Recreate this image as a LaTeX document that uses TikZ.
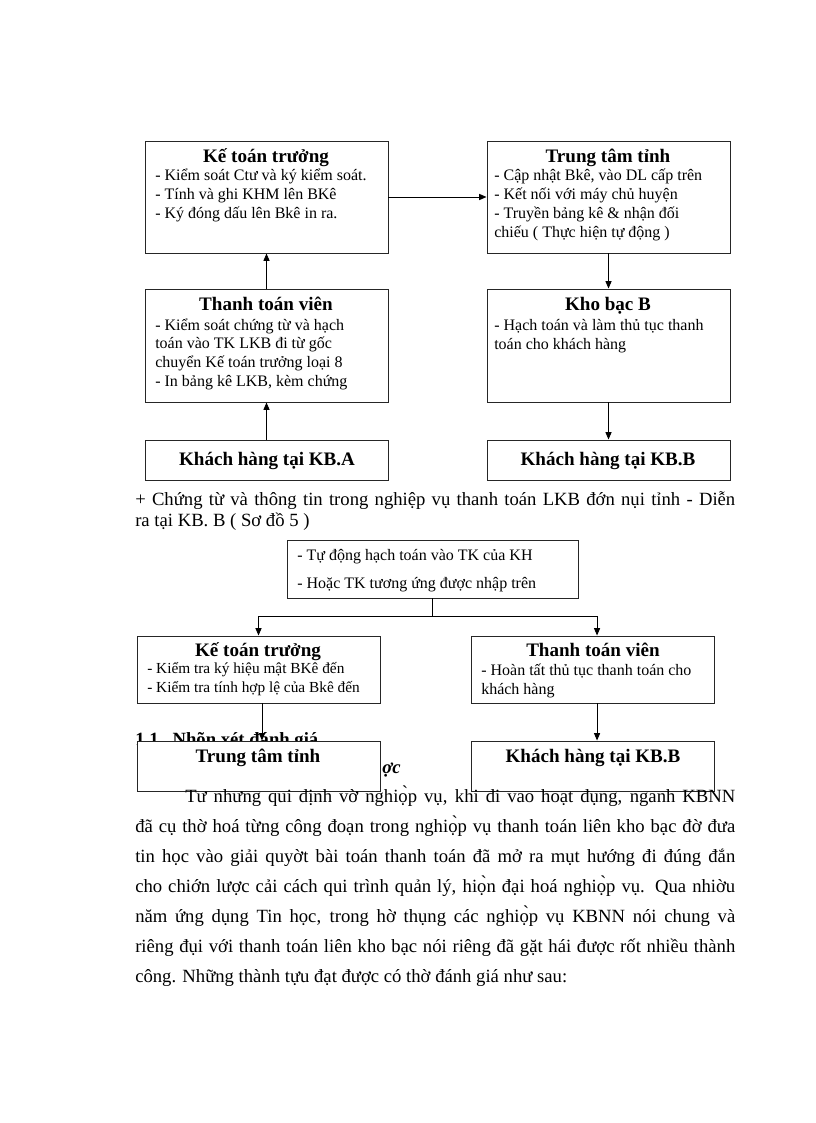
\documentclass[tikz,border=0pt]{standalone}
\usepackage{fontspec}
\setmainfont{Liberation Serif}
\usetikzlibrary{arrows.meta}
\begin{document}
\begin{tikzpicture}[x=0.75pt,y=-0.75pt,
  box/.style={draw=black!85, line width=0.7pt, fill=white, inner sep=0pt},
  bigbox/.style={box, minimum width=182.25pt},
  ttl/.style={font=\fontsize{14.3}{16}\selectfont\bfseries, inner sep=0pt, anchor=base},
  bl/.style={font=\fontsize{12}{14}\selectfont, inner sep=0pt, anchor=base west},
  bls/.style={font=\fontsize{11.5}{14}\selectfont, inner sep=0pt, anchor=base west},
  txt/.style={font=\fontsize{14}{16}\selectfont, inner sep=0pt, anchor=base west},
  arr/.style={-{Triangle[length=5.5pt,width=4.5pt]}, line width=0.7pt}]
\useasboundingbox (0,0) rectangle (816,1123);

% ---------- upper diagram ----------
\node[bigbox, minimum height=84pt] (b1) at (266.5,197) {};
\node[bigbox, minimum height=84pt] (b2) at (608.5,197) {};
\node[bigbox, minimum height=84.75pt] (b3) at (266.5,345.5) {};
\node[bigbox, minimum height=84.75pt] (b4) at (608.5,345.5) {};
\node[bigbox, minimum height=30pt] (b5) at (266.5,460) {};
\node[bigbox, minimum height=30pt] (b6) at (608.5,460) {};

\node[ttl] (t1) at (266,163) {Kế toán trưởng};
\foreach \t [count=\i] in {{- Kiểm soát Ctư và ký kiểm soát.},{- Tính và ghi KHM lên BKê},{- Ký đóng dấu lên Bkê in ra.}}
  \node[bl] (l1-\i) at (155,{181+19*(\i-1)}) {\t};

\node[ttl] (t2) at (608,163) {Trung tâm tỉnh};
\foreach \t [count=\i] in {{- Cập nhật Bkê, vào DL cấp trên},{- Kết nối với máy chủ huyện},{- Truyền bảng kê \& nhận đối},{chiếu ( Thực hiện tự động )}}
  \node[bl] (l2-\i) at (494,{181+19*(\i-1)}) {\t};

\node[ttl] (t3) at (266,310) {Thanh toán viên};
\foreach \t [count=\i] in {{- Kiểm soát chứng từ và hạch},{toán vào TK LKB đi từ gốc},{chuyển Kế toán trưởng loại 8},{- In bảng kê LKB, kèm chứng}}
  \node[bl] (l3-\i) at (155,{330+18.7*(\i-1)}) {\t};

\node[ttl] (t4) at (608,310) {Kho bạc B};
\foreach \t [count=\i] in {{- Hạch toán và làm thủ tục thanh},{toán cho khách hàng}}
  \node[bl] (l4-\i) at (494,{330+19*(\i-1)}) {\t};

\node[ttl] (t5) at (267,465) {Khách hàng tại KB.A};
\node[ttl] (t6) at (608,465) {Khách hàng tại KB.B};

\draw[arr] (b1.east) -- (b2.west);
\draw[arr] (b3.north) -- (b1.south);
\draw[arr] (b5.north) -- (b3.south);
\draw[arr] (b2.south) -- (b4.north);
\draw[arr] (b4.south) -- (b6.north);

% ---------- caption text ----------
\node[txt] (c1) at (135,505) {\makebox[450pt][s]{+ Chứng từ và thông tin trong nghiệp vụ thanh toán LKB đớn nụi tỉnh - Diễn}};
\node[txt] (c2) at (135,526) {ra tại KB. B ( Sơ đồ 5 )};

% ---------- lower diagram ----------
\node[box, minimum width=218.25pt, minimum height=43.5pt] (b7) at (432.5,569) {};
\node[bl] (l7-1) at (297,560) {- Tự động hạch toán vào TK của KH};
\node[bl] (l7-2) at (297,588) {- Hoặc TK tương ứng được nhập trên};

\node[bigbox, minimum height=50.25pt] (b8) at (258.5,669.5) {};
\node[bigbox, minimum height=50.25pt] (b9) at (592.5,669.5) {};
\node[ttl] (t8) at (258,656) {Kế toán trưởng};
\node[bls] (l8-1) at (147,673) {- Kiểm tra ký hiệu mật BKê đến};
\node[bls] (l8-2) at (147,692) {- Kiểm tra tính hợp lệ của Bkê đến};
\node[ttl] (t9) at (593,656) {Thanh toán viên};
\node[bl] (l9-1) at (481,675) {- Hoàn tất thủ tục thanh toán cho};
\node[bl] (l9-2) at (481,694) {khách hàng};

% heading partly hidden behind the boxes
\node[txt, font=\fontsize{14}{16}\selectfont\bfseries] (h1) at (135,745) {1.1.\ \ Nhõn xét đánh giá};
\node[txt, font=\fontsize{14}{16}\selectfont\bfseries\itshape] (h2) at (382,773) {ợc};

\node[bigbox, minimum height=37.5pt] (b10) at (258.5,766) {};
\node[bigbox, minimum height=37.5pt] (b11) at (592.5,766) {};
\node[ttl] (t10) at (258,762) {Trung tâm tỉnh};
\node[ttl] (t11) at (593,762) {Khách hàng tại KB.B};

\coordinate (j) at (432.5,616);
\draw[line width=1.4pt] (b7.south) -- (j);
\draw[arr] (j) -| (b8.north);
\draw[arr] (j) -| ([xshift=3.4pt]b9.north);
\draw[arr] ([xshift=2.6pt]b8.south) -- ([xshift=2.6pt]b10.north);
\draw[arr] ([xshift=3.4pt]b9.south) -- ([xshift=3.4pt]b11.north);

% ---------- paragraph ----------
\node[txt] (p1) at (185,802) {\makebox[412.5pt][s]{Tư nhưng qui định vờ nghiọ̀p vụ, khi đi vao hoạt đụng, nganh KBNN}};
\node[txt] (p2) at (135,832) {\makebox[450pt][s]{đã cụ thờ hoá từng công đoạn trong nghiọ̀p vụ thanh toán liên kho bạc đờ đưa}};
\node[txt] (p3) at (135,862) {\makebox[450pt][s]{tin học vào giải quyờt bài toán thanh toán đã mở ra mụt hướng đi đúng đắn}};
\node[txt] (p4) at (135,892) {\makebox[450pt][s]{cho chiớn lược cải cách qui trình quản lý, hiọ̀n đại hoá nghiọ̀p vụ. Qua nhiờu}};
\node[txt] (p5) at (135,922) {\makebox[450pt][s]{năm ứng dụng Tin học, trong hờ thụng các nghiọ̀p vụ KBNN nói chung và}};
\node[txt] (p6) at (135,952) {\makebox[450pt][s]{riêng đụi với thanh toán liên kho bạc nói riêng đã gặt hái được rốt nhiều thành}};
\node[txt] (p7) at (135,982) {công. Những thành tựu đạt được có thờ đánh giá như sau:};
\end{tikzpicture}
\end{document}
